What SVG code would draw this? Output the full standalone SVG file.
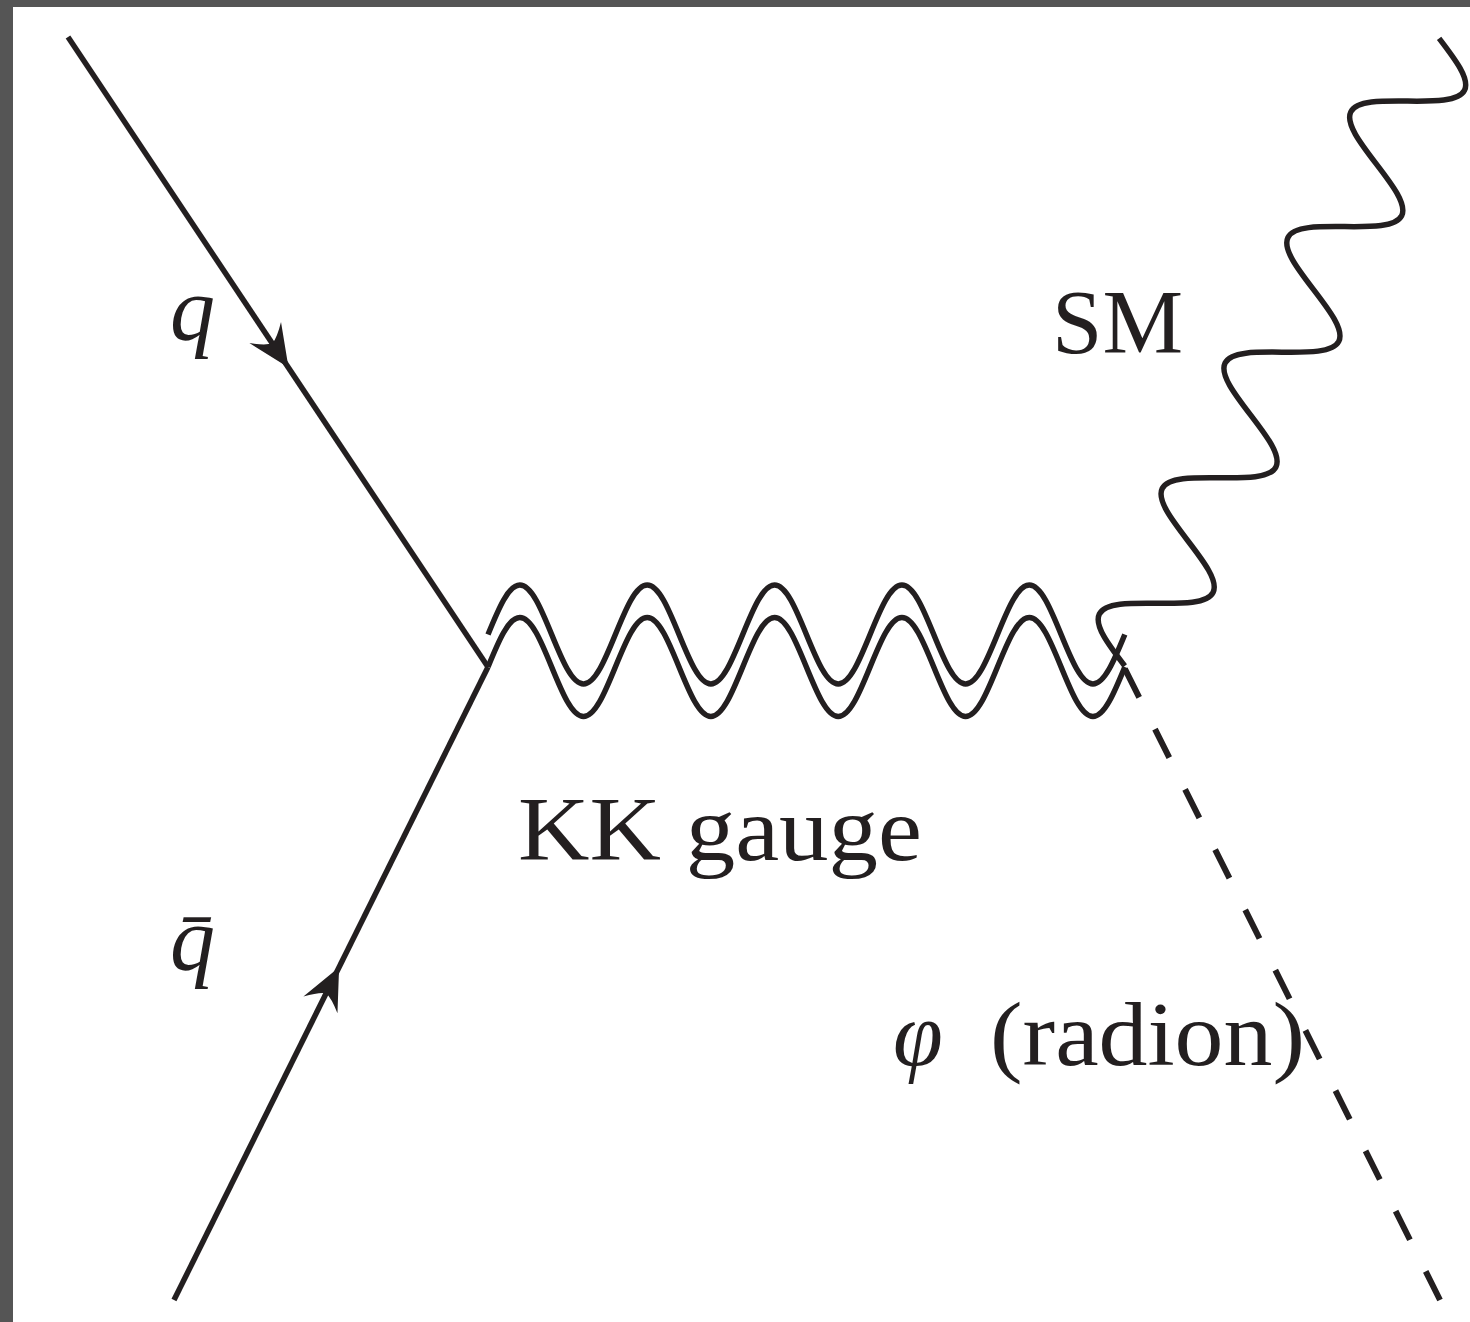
<svg xmlns="http://www.w3.org/2000/svg" xmlns:xlink="http://www.w3.org/1999/xlink" width="1470" height="1322" viewBox="0 0 1470 1322">
<style>
.ln{fill:none;stroke:#231f20;stroke-width:5.5}
.dash{fill:none;stroke:#231f20;stroke-width:6;stroke-dasharray:32 35.35}
.lbl{font-family:"Liberation Serif","DejaVu Serif",serif;font-size:90px;fill:#231f20}
.it{font-style:italic}
.arr{fill:#231f20;stroke:none}
</style>
<defs>
<path id="ah" d="M0,0 L-42,-19 Q-31,-7 -29,0 Q-31,7 -42,19 Z"/>
<path id="kk" d="M488,667 c10.38,-25.36 20.32,-49.5 31.84,-49.5 s21.46,24.14 31.84,49.5 s20.32,49.5 31.84,49.5 s21.46,-24.14 31.84,-49.5 s20.32,-49.5 31.84,-49.5 s21.46,24.14 31.84,49.5 s20.32,49.5 31.84,49.5 s21.46,-24.14 31.84,-49.5 s20.32,-49.5 31.84,-49.5 s21.46,24.14 31.84,49.5 s20.32,49.5 31.84,49.5 s21.46,-24.14 31.84,-49.5 s20.32,-49.5 31.84,-49.5 s21.46,24.14 31.84,49.5 s20.32,49.5 31.84,49.5 s21.46,-24.14 31.84,-49.5 s20.32,-49.5 31.84,-49.5 s21.46,24.14 31.84,49.5 s20.32,49.5 31.84,49.5 s21.46,-24.14 31.84,-49.5"/>
</defs>
<rect x="0" y="0" width="1470" height="1322" fill="#555555"/>
<rect x="13" y="7" width="1457" height="1315" fill="#ffffff"/>
<g id="connectors">
<g id="quark-q">
<line class="ln" x1="68" y1="37" x2="488" y2="667"/>
<use xlink:href="#ah" class="arr" transform="translate(288.5,367.5) rotate(56.31)"/>
</g>
<g id="quark-qbar">
<line class="ln" x1="174" y1="1300" x2="488" y2="667"/>
<use xlink:href="#ah" class="arr" transform="translate(339.1,967.2) rotate(-63.62)"/>
</g>
<g id="kk-gauge-line">
<use xlink:href="#kk" class="ln"/>
<use xlink:href="#kk" class="ln" transform="translate(0,-32.5)"/>
</g>
<g id="sm-photon">
<path class="ln" transform="translate(1439.1,38.3) rotate(116.6)" d="M0,0 c11.45,-23.57 22.4,-46 35.1,-46 s23.65,22.43 35.1,46 s22.4,46 35.1,46 s23.65,-22.43 35.1,-46 s22.4,-46 35.1,-46 s23.65,22.43 35.1,46 s22.4,46 35.1,46 s23.65,-22.43 35.1,-46 s22.4,-46 35.1,-46 s23.65,22.43 35.1,46 s22.4,46 35.1,46 s23.65,-22.43 35.1,-46 s22.4,-46 35.1,-46 s23.65,22.43 35.1,46 s22.4,46 35.1,46 s23.65,-22.43 35.1,-46 s22.4,-46 35.1,-46 s23.65,22.43 35.1,46 s22.4,46 35.1,46 s23.65,-22.43 35.1,-46"/>
</g>
<g id="radion-line">
<line class="dash" x1="1124.9" y1="668.8" x2="1440" y2="1300"/>
</g>
</g>
<g id="label-q"><text class="lbl it" x="170" y="340">q</text></g>
<g id="label-qbar"><text class="lbl it" x="170" y="970">q̄</text></g>
<g id="label-sm"><text class="lbl" x="1052" y="353" textLength="131" lengthAdjust="spacingAndGlyphs">SM</text></g>
<g id="label-kk"><text class="lbl" x="518" y="860" textLength="404" lengthAdjust="spacingAndGlyphs">KK gauge</text></g>
<g id="label-radion">
<text class="lbl it" x="893" y="1065">φ</text>
<text class="lbl" x="990" y="1065" textLength="315" lengthAdjust="spacingAndGlyphs">(radion)</text>
</g>
</svg>
